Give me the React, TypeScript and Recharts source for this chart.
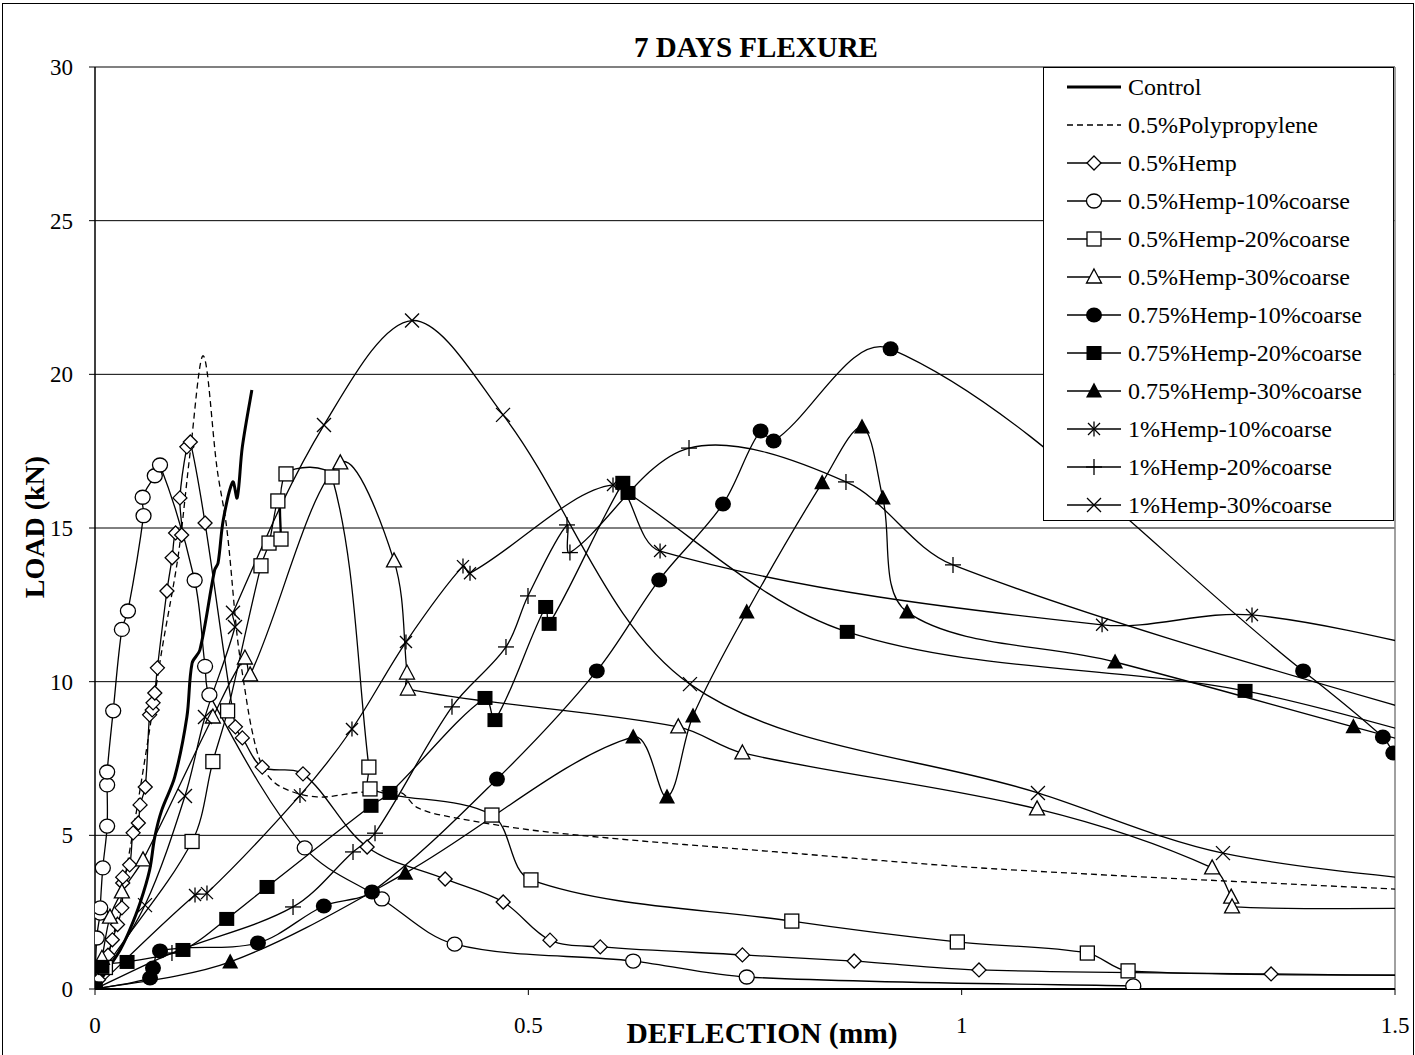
import React from 'react';
import { LineChart, Line, XAxis, YAxis, CartesianGrid, Legend, ReferenceLine } from 'recharts';

type Pt = [number, number];

// deflection (mm), load (kN)
const control: Pt[] = [[0, 0], [0.014, 0.62], [0.029, 1.27], [0.040, 1.92], [0.052, 2.80], [0.063, 3.87], [0.069, 4.95], [0.077, 5.82], [0.092, 6.90], [0.106, 8.85], [0.112, 10.6], [0.121, 11.03], [0.138, 13.63], [0.142, 13.86], [0.148, 15.26], [0.159, 16.5], [0.164, 15.98], [0.170, 17.64], [0.181, 19.49]];
const polypropylene: Pt[] = [[0, 0], [0.02, 1.6], [0.040, 4.5], [0.060, 7.9], [0.077, 11.0], [0.096, 14.1], [0.110, 17.5], [0.125, 20.6], [0.141, 16.9], [0.152, 15.0], [0.164, 11.5], [0.171, 10.1], [0.182, 8.3], [0.194, 7.2], [0.213, 6.6], [0.256, 6.25], [0.306, 6.4], [0.352, 6.4], [0.372, 5.9], [0.410, 5.6], [0.525, 5.1], [0.813, 4.4], [1.044, 3.9], [1.5, 3.25]];
const hemp: Pt[] = [[0, 0], [0.004, 0.3], [0.009, 0.7], [0.015, 1.1], [0.020, 1.6], [0.026, 2.1], [0.031, 2.64], [0.032, 3.45], [0.032, 3.64], [0.040, 4.04], [0.044, 5.08], [0.050, 5.40], [0.052, 5.99], [0.058, 6.57], [0.063, 8.92], [0.066, 9.08], [0.067, 9.31], [0.069, 9.63], [0.072, 10.45], [0.083, 12.95], [0.089, 14.03], [0.093, 14.84], [0.100, 14.77], [0.098, 15.98], [0.106, 17.64], [0.110, 17.80], [0.127, 15.16], [0.162, 8.53], [0.170, 8.17], [0.193, 7.22], [0.240, 7.0], [0.314, 4.62], [0.404, 3.58], [0.471, 2.83], [0.525, 1.59], [0.583, 1.37], [0.747, 1.11], [0.876, 0.91], [1.020, 0.62], [1.357, 0.49], [1.6, 0.42]];
const hempC10: Pt[] = [[0, 0], [0.002, 1.66], [0.006, 2.47], [0.006, 2.64], [0.009, 3.94], [0.014, 5.3], [0.014, 6.64], [0.014, 7.06], [0.021, 9.05], [0.031, 11.7], [0.038, 12.3], [0.056, 15.4], [0.055, 16.0], [0.069, 16.7], [0.075, 17.05], [0.115, 13.3], [0.127, 10.5], [0.132, 9.57], [0.242, 4.59], [0.331, 2.93], [0.415, 1.46], [0.621, 0.91], [0.752, 0.39], [1.198, 0.1]];
const hempC20: Pt[] = [[0, 0], [0.012, 0.7], [0.112, 4.8], [0.136, 7.4], [0.153, 9.05], [0.1915, 13.77], [0.2008, 14.51], [0.211, 15.88], [0.2146, 14.64], [0.2204, 16.76], [0.2735, 16.66], [0.316, 7.22], [0.3173, 6.51], [0.458, 5.66], [0.503, 3.55], [0.804, 2.21], [0.995, 1.53], [1.145, 1.17], [1.192, 0.59], [1.6, 0.45]];
const hempC30: Pt[] = [[0, 0], [0.008, 1.0], [0.0173, 2.34], [0.031, 3.16], [0.0554, 4.2], [0.136, 8.85], [0.173, 10.77], [0.179, 10.22], [0.283, 17.12], [0.345, 13.93], [0.36, 10.28], [0.361, 9.76], [0.673, 8.53], [0.747, 7.68], [1.087, 5.86], [1.289, 3.94], [1.311, 2.99], [1.312, 2.67], [1.6, 2.64]];
const hemp75C10: Pt[] = [[0, 0], [0.0635, 0.36], [0.0669, 0.68], [0.075, 1.24], [0.188, 1.5], [0.264, 2.7], [0.3196, 3.16], [0.4638, 6.83], [0.579, 10.35], [0.651, 13.31], [0.7246, 15.78], [0.768, 18.16], [0.783, 17.83], [0.918, 20.83], [1.394, 10.35], [1.486, 8.2], [1.498, 7.68]];
const hemp75C20: Pt[] = [[0, 0], [0.008, 0.72], [0.037, 0.88], [0.1015, 1.27], [0.152, 2.28], [0.1985, 3.32], [0.3185, 5.96], [0.3404, 6.38], [0.45, 9.47], [0.4615, 8.75], [0.52, 12.43], [0.524, 11.88], [0.609, 16.47], [0.615, 16.14], [0.868, 11.62], [1.327, 9.7], [1.6, 7.7]];
const hemp75C30: Pt[] = [[0, 0], [0.156, 0.88], [0.358, 3.77], [0.621, 8.2], [0.66, 6.25], [0.69, 8.88], [0.752, 12.27], [0.839, 16.47], [0.885, 18.29], [0.909, 15.98], [0.937, 12.27], [1.177, 10.64], [1.452, 8.53], [1.6, 7.4]];
const hemp1C10: Pt[] = [[0, 0], [0.1154, 3.06], [0.1292, 3.12], [0.2365, 6.3], [0.2965, 8.46], [0.3588, 11.29], [0.4246, 13.76], [0.4327, 13.53], [0.5977, 16.4], [0.652, 14.25], [1.162, 11.85], [1.335, 12.17], [1.6, 10.7]];
const hemp1C20: Pt[] = [[0, 0], [0.0888, 1.17], [0.2285, 2.67], [0.2977, 4.46], [0.3231, 5.07], [0.4119, 9.18], [0.4742, 11.13], [0.4996, 12.79], [0.5446, 15.1], [0.548, 14.2], [0.6854, 17.6], [0.8665, 16.5], [0.99, 13.8], [1.6, 8.4]];
const hemp1C30: Pt[] = [[0, 0], [0.0577, 2.73], [0.1038, 6.28], [0.1269, 8.85], [0.1615, 11.78], [0.1592, 12.24], [0.2642, 18.35], [0.3658, 21.75], [0.4708, 18.68], [0.6865, 9.92], [1.088, 6.38], [1.3015, 4.42], [1.6, 3.35]];

const xTicks = [0, 0.5, 1, 1.5];
const yTicks = [0, 5, 10, 15, 20, 25, 30];

const FONT = '"Liberation Serif", "Times New Roman", serif';

type Shape = 'none' | 'diamond' | 'circle' | 'square' | 'triangle' | 'circleFill' | 'squareFill' | 'triangleFill' | 'asterisk' | 'plus' | 'cross';

interface Series { name: string; pts: Pt[]; shape: Shape; width?: number; dash?: string }

const series: Series[] = [
  { name: 'Control', pts: control, shape: 'none', width: 3 },
  { name: '0.5%Polypropylene', pts: polypropylene, shape: 'none', dash: '6 4' },
  { name: '0.5%Hemp', pts: hemp, shape: 'diamond' },
  { name: '0.5%Hemp-10%coarse', pts: hempC10, shape: 'circle' },
  { name: '0.5%Hemp-20%coarse', pts: hempC20, shape: 'square' },
  { name: '0.5%Hemp-30%coarse', pts: hempC30, shape: 'triangle' },
  { name: '0.75%Hemp-10%coarse', pts: hemp75C10, shape: 'circleFill' },
  { name: '0.75%Hemp-20%coarse', pts: hemp75C20, shape: 'squareFill' },
  { name: '0.75%Hemp-30%coarse', pts: hemp75C30, shape: 'triangleFill' },
  { name: '1%Hemp-10%coarse', pts: hemp1C10, shape: 'asterisk' },
  { name: '1%Hemp-20%coarse', pts: hemp1C20, shape: 'plus' },
  { name: '1%Hemp-30%coarse', pts: hemp1C30, shape: 'cross' },
];

// smoothed line: Catmull-Rom tangents weighted by segment length so a far
// neighbour doesn't throw the curve into a loop
const smoothCurve = (context: any) => {
  let pts: number[][] = [];
  const dist = (a: number[], b: number[]) => Math.hypot(b[0] - a[0], b[1] - a[1]) || 1e-6;
  return {
    areaStart() {},
    areaEnd() {},
    lineStart() { pts = []; },
    point(x: number, y: number) { pts.push([+x, +y]); },
    lineEnd() {
      const n = pts.length;
      if (!n) return;
      context.moveTo(pts[0][0], pts[0][1]);
      for (let i = 0; i < n - 1; i++) {
        const p0 = pts[i === 0 ? 0 : i - 1];
        const p1 = pts[i];
        const p2 = pts[i + 1];
        const p3 = pts[i + 2 < n ? i + 2 : n - 1];
        const d01 = i === 0 ? dist(p1, p2) : dist(p0, p1);
        const d12 = dist(p1, p2);
        const d23 = i + 2 < n ? dist(p2, p3) : d12;
        const k1 = d12 / (d01 + d12) / 3;
        const k2 = d12 / (d12 + d23) / 3;
        context.bezierCurveTo(
          p1[0] + (p2[0] - p0[0]) * k1, p1[1] + (p2[1] - p0[1]) * k1,
          p2[0] - (p3[0] - p1[0]) * k2, p2[1] - (p3[1] - p1[1]) * k2,
          p2[0], p2[1],
        );
      }
    },
  };
};

function Marker({ shape, cx, cy }: { shape: Shape; cx: number; cy: number }) {
  const sw = 1.3;
  switch (shape) {
    case 'diamond':
      return <polygon points={`${cx},${cy - 7} ${cx + 7},${cy} ${cx},${cy + 7} ${cx - 7},${cy}`} fill="#fff" stroke="#000" strokeWidth={sw} />;
    case 'circle':
      return <ellipse cx={cx} cy={cy} rx={7.5} ry={7} fill="#fff" stroke="#000" strokeWidth={sw} />;
    case 'square':
      return <rect x={cx - 7} y={cy - 7} width={14} height={14} fill="#fff" stroke="#000" strokeWidth={sw} />;
    case 'triangle':
      return <polygon points={`${cx},${cy - 8} ${cx + 7.5},${cy + 6} ${cx - 7.5},${cy + 6}`} fill="#fff" stroke="#000" strokeWidth={sw} />;
    case 'circleFill':
      return <ellipse cx={cx} cy={cy} rx={8} ry={7.5} fill="#000" />;
    case 'squareFill':
      return <rect x={cx - 7.5} y={cy - 7} width={15} height={14} fill="#000" />;
    case 'triangleFill':
      return <polygon points={`${cx},${cy - 8.5} ${cx + 8},${cy + 6.5} ${cx - 8},${cy + 6.5}`} fill="#000" />;
    case 'asterisk':
      return (
        <g stroke="#000" strokeWidth={sw}>
          <line x1={cx - 6} y1={cy - 6} x2={cx + 6} y2={cy + 6} />
          <line x1={cx - 6} y1={cy + 6} x2={cx + 6} y2={cy - 6} />
          <line x1={cx} y1={cy - 7.5} x2={cx} y2={cy + 7.5} />
        </g>
      );
    case 'plus':
      return (
        <g stroke="#000" strokeWidth={sw}>
          <line x1={cx - 8} y1={cy} x2={cx + 8} y2={cy} />
          <line x1={cx} y1={cy - 8} x2={cx} y2={cy + 8} />
        </g>
      );
    case 'cross':
      return (
        <g stroke="#000" strokeWidth={sw}>
          <line x1={cx - 7} y1={cy - 7} x2={cx + 7} y2={cy + 7} />
          <line x1={cx - 7} y1={cy + 7} x2={cx + 7} y2={cy - 7} />
        </g>
      );
    default:
      return <g />;
  }
}

function LegendBox() {
  return (
    <div style={{ width: 349, height: 452, border: '1px solid #000', background: '#fff', fontFamily: FONT, fontSize: 24, color: '#000' }}>
      {series.map((s) => (
        <div key={s.name} style={{ height: 38, display: 'flex', alignItems: 'center' }}>
          <svg width={84} height={38} style={{ flex: 'none' }}>
            <line x1={23} y1={19} x2={77} y2={19} stroke="#000" strokeWidth={s.width ?? 1.3} strokeDasharray={s.dash} />
            <Marker shape={s.shape} cx={50} cy={19} />
          </svg>
          <span style={{ whiteSpace: 'nowrap' }}>{s.name}</span>
        </div>
      ))}
    </div>
  );
}

export default function App() {
  const tick = { fill: '#000', fontSize: 23, fontFamily: FONT };
  return (
    <div style={{ position: 'absolute', left: 2, top: 3, width: 1410, height: 1052, borderTop: '1px solid #000', borderLeft: '1px solid #000', borderRight: '1px solid #000', background: '#fff' }}>
      <div style={{ position: 'absolute', left: 453, top: 29, width: 600, textAlign: 'center', fontFamily: FONT, fontWeight: 'bold', fontSize: 29, lineHeight: '29px', zIndex: 2 }}>
        7 DAYS FLEXURE
      </div>
      <LineChart width={1410} height={1052} margin={{ top: 63, right: 18, bottom: 0, left: 0 }}>
        <CartesianGrid horizontal vertical={false} stroke="#000" strokeWidth={1} />
        <ReferenceLine y={30} stroke="#808080" strokeWidth={1.5} />
        <ReferenceLine x={1.5} stroke="#808080" strokeWidth={1.5} />
        <XAxis
          type="number"
          dataKey="x"
          domain={[0, 1.5]}
          ticks={xTicks}
          allowDataOverflow
          height={67}
          tick={tick}
          tickSize={6}
          tickMargin={22}
          axisLine={{ stroke: '#000', strokeWidth: 2 }}
          tickLine={{ stroke: '#000' }}
          label={{
            content: () => (
              <text x={759} y={1039} textAnchor="middle" fontFamily={FONT} fontWeight="bold" fontSize={29.5} fill="#000">
                DEFLECTION (mm)
              </text>
            ),
          }}
        />
        <YAxis
          type="number"
          domain={[0, 30]}
          ticks={yTicks}
          allowDataOverflow
          width={92}
          tick={tick}
          tickSize={6}
          tickMargin={16}
          axisLine={{ stroke: '#000', strokeWidth: 1.5 }}
          tickLine={{ stroke: '#000' }}
          label={{
            content: () => (
              <text x={35} y={523} transform="rotate(-90 35 523)" textAnchor="middle" dominantBaseline="middle" fontFamily={FONT} fontWeight="bold" fontSize={28} fill="#000">
                LOAD (kN)
              </text>
            ),
          }}
        />
        {series.map((s) => (
          <Line
            key={s.name}
            name={s.name}
            data={s.pts.map(([x, y]) => ({ x, y }))}
            dataKey="y"
            type={smoothCurve as any}
            stroke="#000"
            strokeWidth={s.width ?? 1.3}
            strokeDasharray={s.dash}
            dot={s.shape === 'none' ? false : (p: any) => <Marker key={`${s.name}-${p.index}`} shape={s.shape} cx={p.cx} cy={p.cy} />}
            activeDot={false}
            isAnimationActive={false}
          />
        ))}
        <Legend
          layout="vertical"
          align="center"
          verticalAlign="middle"
          wrapperStyle={{ left: 1040, top: 63, width: 351, height: 454 }}
          content={() => <LegendBox />}
        />
      </LineChart>
    </div>
  );
}
